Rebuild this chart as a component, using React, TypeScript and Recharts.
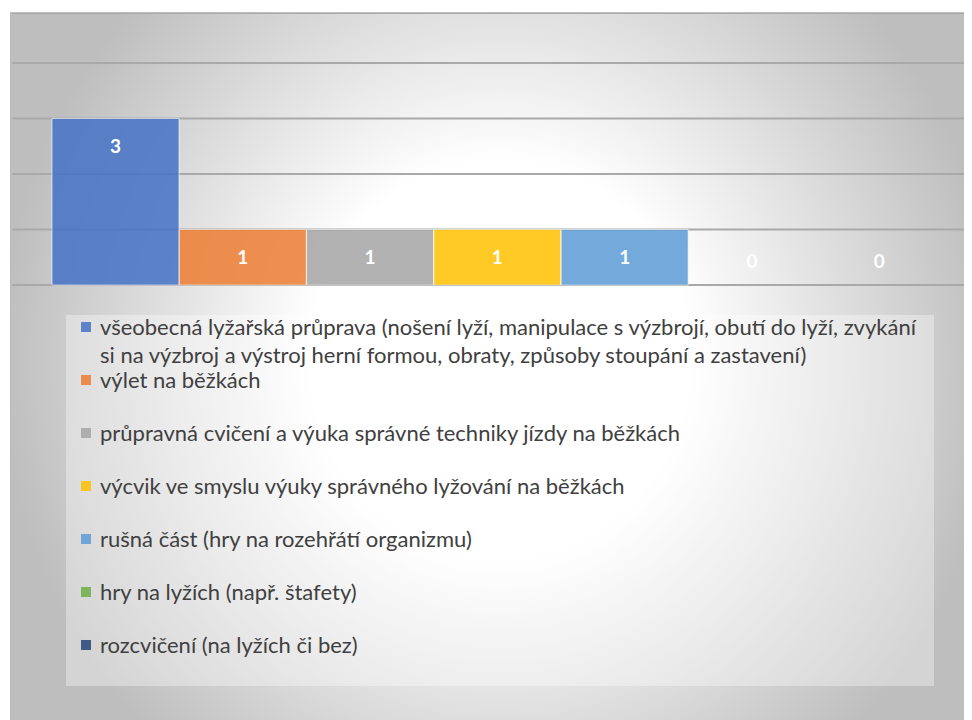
import { Bar, BarChart, CartesianGrid, Cell, LabelList, XAxis, YAxis } from "recharts";

const categories = [
    "všeobecná lyžařská průprava (nošení lyží, manipulace s výzbrojí, obutí do lyží, zvykání si na výzbroj a výstroj herní formou, obraty, způsoby stoupání a zastavení)",
    "výlet na běžkách",
    "průpravná cvičení a výuka správné techniky jízdy na běžkách",
    "výcvik ve smyslu výuky správného lyžování na běžkách",
    "rušná část (hry na rozehřátí organizmu)",
    "hry na lyžích (např. štafety)",
    "rozcvičení (na lyžích či bez)",
];
const values = [3, 1, 1, 1, 1, 0, 0];
const colors = ["#4472C4", "#ED7D31", "#A5A5A5", "#FFC000", "#5B9BD5", "#70AD47", "#264478"];
const yTicks = [0, 1, 2, 3, 4];

const data = categories.map((name, i) => ({ name, value: values[i] }));

const FONT = "Lato, 'Open Sans', sans-serif";

function renderLabel(props: any) {
    const { x, y, width, height, value } = props;
    const top = Number(y);
    const cy = Number(value) > 0 ? top + 27 : top + Number(height) - 25;
    return (
        <text
            x={Number(x) + Number(width) / 2}
            y={cy}
            textAnchor="middle"
            dominantBaseline="central"
            fill="#ffffff"
            fontSize={19}
            fontWeight="bold"
            fontFamily={FONT}
        >
            {value}
        </text>
    );
}

export default function App() {
    return (
        <div style={{ position: "relative", width: 964, height: 712, overflow: "hidden" }}>
            <div
                style={{
                    position: "absolute",
                    left: 2,
                    top: 4,
                    width: 961,
                    height: 707,
                    borderLeft: "1px solid #b9b9b9",
                    borderTop: "1px solid #bfbfbf",
                    background:
                        "radial-gradient(ellipse 500px 520px at 489px 347px, #ffffff 0%, #ffffff 38%, #bebebe 100%)",
                }}
            >
                <BarChart
                    width={961}
                    height={300}
                    data={data}
                    margin={{ top: 0, right: 0, left: 1, bottom: 28 }}
                    barCategoryGap={0}
                >
                    <CartesianGrid vertical={false} stroke="#a9a9a9" strokeWidth={2} />
                    <XAxis dataKey="name" hide padding={{ left: 40, right: 29 }} />
                    <YAxis hide domain={[0, 4.9]} ticks={yTicks} />
                    <Bar
                        dataKey="value"
                        isAnimationActive={false}
                        minPointSize={(v: number) => (v === 0 ? 1 : 0)}
                        fillOpacity={0.85}
                        stroke="#ffffff"
                        strokeOpacity={0.6}
                        strokeWidth={1}
                    >
                        {data.map((d, i) => (
                            <Cell
                                key={d.name}
                                fill={colors[i]}
                                fillOpacity={d.value === 0 ? 0 : 0.85}
                                strokeOpacity={d.value === 0 ? 0 : 0.6}
                            />
                        ))}
                        <LabelList dataKey="value" content={renderLabel} />
                    </Bar>
                </BarChart>
                <div
                    style={{
                        position: "absolute",
                        left: 55,
                        top: 302,
                        width: 868,
                        height: 371,
                        background: "rgba(255,255,255,0.35)",
                        fontFamily: FONT,
                        fontSize: 22,
                        color: "#404040",
                    }}
                >
                    {categories.map((name, i) => (
                        <div key={name} style={{ position: "relative", height: 53 }}>
                            <div
                                style={{
                                    position: "absolute",
                                    left: 15,
                                    top: 7,
                                    width: 10,
                                    height: 10,
                                    background: colors[i],
                                    opacity: 0.85,
                                }}
                            />
                            <div
                                style={{
                                    position: "absolute",
                                    left: 34,
                                    top: -2,
                                    width: 830,
                                    lineHeight: "28px",
                                }}
                            >
                                {name}
                            </div>
                        </div>
                    ))}
                </div>
            </div>
        </div>
    );
}
